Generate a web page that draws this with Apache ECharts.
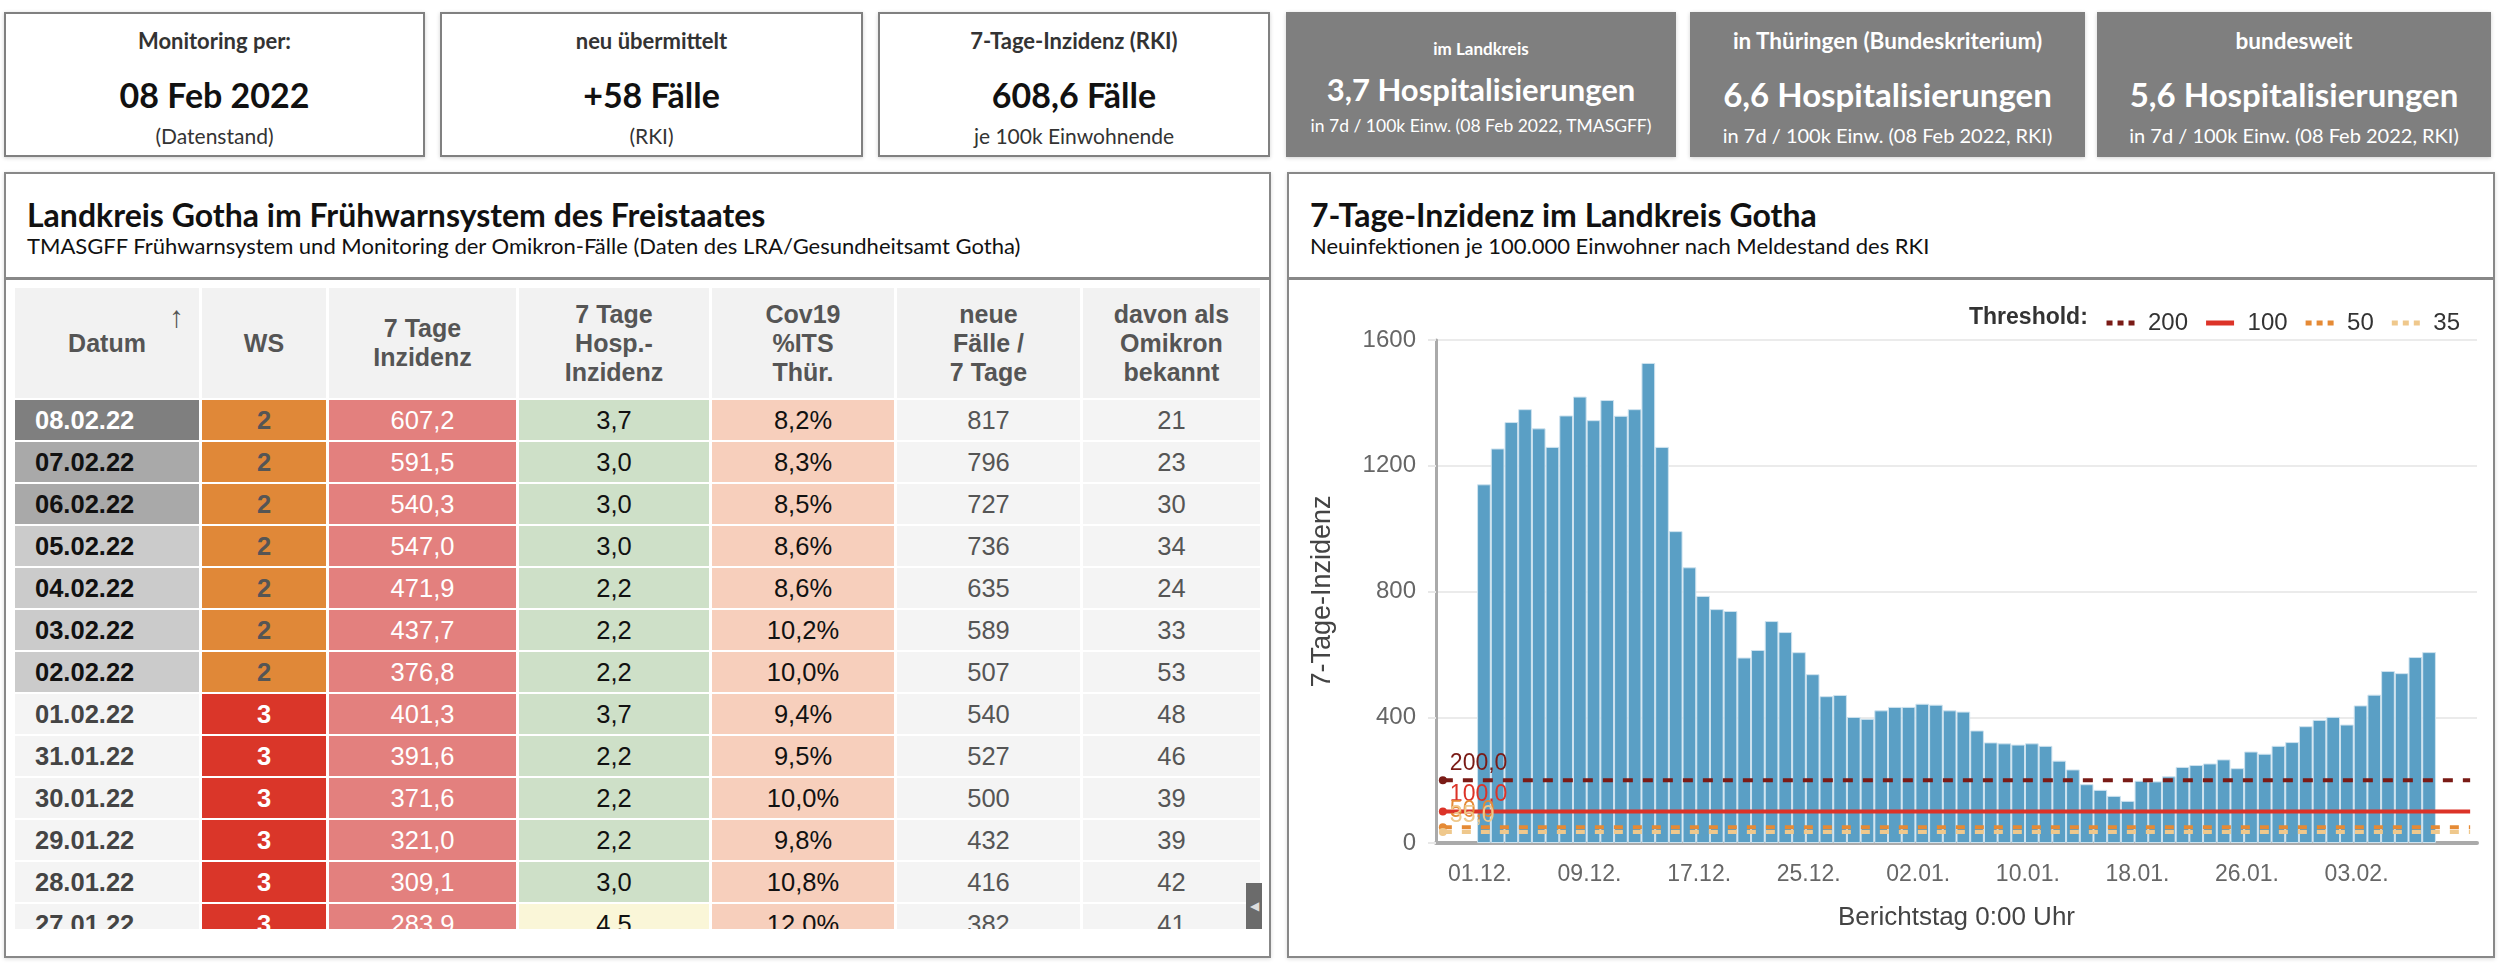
<!DOCTYPE html>
<html>
<head>
<meta charset="utf-8">
<title>Landkreis Gotha</title>
<script src="https://cdn.jsdelivr.net/npm/echarts@6/dist/echarts.min.js"></script>
<style>
body { margin: 0; width: 2500px; height: 971px; background: #fff; position: relative; overflow: hidden; font-family: Lato, "Noto Sans", sans-serif; }
.card { position: absolute; top: 12px; height: 141px; border: 2px solid #808080; background: #fff; color: #222; box-shadow: 0 1px 4px rgba(0,0,0,.18); }
.card.dark { background: #7f7f7f; border-color: #7f7f7f; color: #fff; }
.card div { position: absolute; left: 0; right: 0; text-align: center; transform: translateY(-50%); white-space: nowrap; }
.card .h { font-weight: 700; font-size: 22px; color: #333; }
.card .v { font-weight: 700; font-size: 34px; color: #111; }
.card .s { font-size: 21px; color: #333; }
.card.dark .h, .card.dark .v, .card.dark .s { color: #fff; }
.card.dark .v { font-size: 33px; }
.card.dark .s { font-size: 20px; }
.panel { position: absolute; top: 172px; height: 782px; border: 2px solid #888; background: #fff; box-shadow: 0 1px 4px rgba(0,0,0,.15); }
.panel .head { position: absolute; left: 0; right: 0; top: 0; height: 103px; border-bottom: 3px solid #888; }
.panel .title { position: absolute; left: 21px; top: 40px; transform: translateY(-50%); font-weight: 700; font-size: 32px; color: #111; white-space: nowrap; }
.panel .sub { position: absolute; left: 21px; top: 71px; transform: translateY(-50%); font-size: 22px; color: #111; white-space: nowrap; }
#tablebox { position: absolute; left: 15px; top: 288px; width: 1250px; height: 641px; overflow: hidden; }
table { border-collapse: separate; border-spacing: 3px 2px; margin: -2px 0 0 -3px; table-layout: fixed; font-family: "Liberation Sans", Arial, sans-serif; }
th { background: #f2f2f2; color: #555; font-size: 25px; font-weight: 700; height: 110px; line-height: 29px; padding: 0; position: relative; }
td { height: 40px; padding: 0; font-size: 25.5px; text-align: center; }
td.d { text-align: left; padding-left: 20px; font-weight: 700; }
.arrow { position: absolute; left: 154px; top: 14px; font-size: 30px; font-weight: 700; color: #555; }
#scroll { position: absolute; left: 1246px; top: 883px; width: 16px; height: 46px; background: #6b6b6b; color: #ddd; font-size: 12px; line-height: 46px; text-align: center; }
#chart { position: absolute; left: 1289px; top: 281px; width: 1204px; height: 675px; }
</style>
</head>
<body>

<div class="card" style="left:4px;width:417px"><div class="h" style="top:26px">Monitoring per:</div><div class="v" style="top:80px">08 Feb 2022</div><div class="s" style="top:121px">(Datenstand)</div></div>
<div class="card" style="left:440px;width:419px"><div class="h" style="top:26px">neu übermittelt</div><div class="v" style="top:80px">+58 Fälle</div><div class="s" style="top:121px">(RKI)</div></div>
<div class="card" style="left:878px;width:388px"><div class="h" style="top:26px">7-Tage-Inzidenz (RKI)</div><div class="v" style="top:80px">608,6 Fälle</div><div class="s" style="top:121px">je 100k Einwohnende</div></div>
<div class="card dark" style="left:1286px;width:386px"><div class="h" style="top:34px;font-size:17px">im Landkreis</div><div class="v" style="top:75px;font-size:31px">3,7 Hospitalisierungen</div><div class="s" style="top:111px;font-size:17.5px">in 7d / 100k Einw. (08 Feb 2022, TMASGFF)</div></div>
<div class="card dark" style="left:1690px;width:391px"><div class="h" style="top:26px;font-size:22.5px">in Thüringen (Bundeskriterium)</div><div class="v" style="top:80px">6,6 Hospitalisierungen</div><div class="s" style="top:121px">in 7d / 100k Einw. (08 Feb 2022, RKI)</div></div>
<div class="card dark" style="left:2097px;width:390px"><div class="h" style="top:26px;font-size:22.5px">bundesweit</div><div class="v" style="top:80px">5,6 Hospitalisierungen</div><div class="s" style="top:121px">in 7d / 100k Einw. (08 Feb 2022, RKI)</div></div>

<div class="panel" style="left:4px;width:1263px">
  <div class="head">
    <div class="title">Landkreis Gotha im Frühwarnsystem des Freistaates</div>
    <div class="sub">TMASGFF Frühwarnsystem und Monitoring der Omikron-Fälle (Daten des LRA/Gesundheitsamt Gotha)</div>
  </div>
</div>
<div id="tablebox"></div>
<div id="scroll">&#9664;</div>

<div class="panel" style="left:1287px;width:1204px">
  <div class="head">
    <div class="title">7-Tage-Inzidenz im Landkreis Gotha</div>
    <div class="sub">Neuinfektionen je 100.000 Einwohner nach Meldestand des RKI</div>
  </div>
</div>
<div id="chart"></div>

<script>
// Tabelle
const tableHeads = ['Datum', 'WS', '7 Tage<br>Inzidenz', '7 Tage<br>Hosp.-<br>Inzidenz', 'Cov19<br>%ITS<br>Thür.', 'neue<br>Fälle /<br>7 Tage', 'davon als<br>Omikron<br>bekannt'];
const tableDates = ['08.02.22', '07.02.22', '06.02.22', '05.02.22', '04.02.22', '03.02.22', '02.02.22', '01.02.22', '31.01.22', '30.01.22', '29.01.22', '28.01.22', '27.01.22'];
const tableWS = [2, 2, 2, 2, 2, 2, 2, 3, 3, 3, 3, 3, 3];
const tableInz = ['607,2', '591,5', '540,3', '547,0', '471,9', '437,7', '376,8', '401,3', '391,6', '371,6', '321,0', '309,1', '283,9'];
const tableHosp = ['3,7', '3,0', '3,0', '3,0', '2,2', '2,2', '2,2', '3,7', '2,2', '2,2', '2,2', '3,0', '4,5'];
const tableITS = ['8,2%', '8,3%', '8,5%', '8,6%', '8,6%', '10,2%', '10,0%', '9,4%', '9,5%', '10,0%', '9,8%', '10,8%', '12,0%'];
const tableCases = [817, 796, 727, 736, 635, 589, 507, 540, 527, 500, 432, 416, 382];
const tableOmikron = [21, 23, 30, 34, 24, 33, 53, 48, 46, 39, 39, 42, 41];

const colWidths = [184, 124, 187, 190, 182, 183, 177];
const dateBg = ['#7f7f7f', '#a9a9a9', '#a9a9a9', '#cbcbcb', '#cbcbcb', '#cbcbcb', '#cbcbcb'];
const dateFg = ['#fff', '#111', '#111', '#111', '#111', '#111', '#111'];

let html = '<table><colgroup>' + colWidths.map(w => '<col style="width:' + w + 'px">').join('') + '</colgroup><tr>';
tableHeads.forEach((h, i) => {
    html += '<th>' + h + (i === 0 ? '<span class="arrow">&#8593;</span>' : '') + '</th>';
});
html += '</tr>';
tableDates.forEach((d, i) => {
    let bg = dateBg[i] || '#f4f4f4';
    let fg = dateFg[i] || '#444';
    let ws = tableWS[i] === 2 ? 'background:#e08838;color:#555' : 'background:#da3629;color:#fff';
    let hosp = tableHosp[i] === '4,5' ? '#faf6d8' : '#cee0c8';
    html += '<tr>'
        + '<td class="d" style="background:' + bg + ';color:' + fg + '">' + d + '</td>'
        + '<td style="' + ws + ';font-weight:700">' + tableWS[i] + '</td>'
        + '<td style="background:#e3807e;color:#fff">' + tableInz[i] + '</td>'
        + '<td style="background:' + hosp + ';color:#111">' + tableHosp[i] + '</td>'
        + '<td style="background:#f7cfbc;color:#111">' + tableITS[i] + '</td>'
        + '<td style="background:#f4f4f4;color:#555">' + tableCases[i] + '</td>'
        + '<td style="background:#f4f4f4;color:#555">' + tableOmikron[i] + '</td>'
        + '</tr>';
});
html += '</table>';
document.getElementById('tablebox').innerHTML = html;

// Diagramm
const padBefore = ['28.11.', '29.11.', '30.11.'];
const chartDays = [
    '01.12.', '02.12.', '03.12.', '04.12.', '05.12.', '06.12.', '07.12.', '08.12.', '09.12.', '10.12.',
    '11.12.', '12.12.', '13.12.', '14.12.', '15.12.', '16.12.', '17.12.', '18.12.', '19.12.', '20.12.',
    '21.12.', '22.12.', '23.12.', '24.12.', '25.12.', '26.12.', '27.12.', '28.12.', '29.12.', '30.12.', '31.12.',
    '01.01.', '02.01.', '03.01.', '04.01.', '05.01.', '06.01.', '07.01.', '08.01.', '09.01.', '10.01.',
    '11.01.', '12.01.', '13.01.', '14.01.', '15.01.', '16.01.', '17.01.', '18.01.', '19.01.', '20.01.',
    '21.01.', '22.01.', '23.01.', '24.01.', '25.01.', '26.01.', '27.01.', '28.01.', '29.01.', '30.01.', '31.01.',
    '01.02.', '02.02.', '03.02.', '04.02.', '05.02.', '06.02.', '07.02.', '08.02.'
];
const padAfter = ['09.02.', '10.02.', '11.02.'];
const incidence = [
    1141, 1255, 1339, 1380, 1319, 1260, 1360, 1420, 1345, 1409,
    1359, 1380, 1527, 1260, 992, 877, 786, 744, 738, 590,
    614, 706, 671, 607, 537, 467, 471, 401, 395, 422, 433,
    433, 443, 440, 422, 418, 358, 320, 317, 313, 317,
    309, 262, 234, 187, 169, 150, 134, 198, 196, 212,
    242, 248, 253, 266, 238, 291, 283.9, 309.1, 321.0, 371.6, 391.6,
    401.3, 376.8, 437.7, 471.9, 547.0, 540.3, 591.5, 607.2
];
const thresholds = [200, 100, 50, 35];
const thrColors = ['#7a1b16', '#dc3328', '#e58a35', '#efc88c'];
const thrDash = [[10, 10], 'solid', [9, 10], [9, 10]];
const dotsIcon = 'path://M0,0h6v5h-6z M11,0h6v5h-6z M22,0h6v5h-6z';
const lineIcon = 'path://M0,0h28v5h-28z';

const categories = padBefore.concat(chartDays, padAfter);
const barData = padBefore.map(() => null).concat(incidence, padAfter.map(() => null));
const firstDay = padBefore.length;
const lastDay = padBefore.length + chartDays.length - 1;

const chart = echarts.init(document.getElementById('chart'));

const thrSeries = thresholds.map((v, i) => ({
    name: String(v),
    type: 'line',
    silent: true,
    z: 5,
    color: thrColors[i],
    lineStyle: { color: thrColors[i], width: 4, type: thrDash[i] },
    itemStyle: { color: thrColors[i] },
    label: {
        position: [11, -24],
        color: thrColors[i],
        fontSize: 23,
        formatter: p => p.value[1].toFixed(1).replace('.', ',')
    },
    data: [
        { value: [0, v], symbol: 'circle', symbolSize: 8, label: { show: true } },
        { value: [categories.length - 1, v], symbol: 'none' }
    ]
}));

chart.setOption({
    animation: false,
    textStyle: { fontFamily: '"Liberation Sans", Arial, sans-serif' },
    grid: { left: 147, right: 16, top: 59, bottom: 113 },
    graphic: [{
        type: 'text', left: 680, top: 25,
        style: { text: 'Threshold:', font: 'bold 23px "Liberation Sans", Arial', fill: '#333' }
    }],
    legend: {
        right: 28, top: 25,
        selectedMode: false,
        itemWidth: 29, itemHeight: 5, itemGap: 18,
        textStyle: { fontSize: 24, color: '#333', padding: [0, 0, 0, 8] },
        data: thresholds.map((v, i) => ({ name: String(v), icon: i === 1 ? lineIcon : dotsIcon }))
    },
    xAxis: {
        type: 'category',
        data: categories,
        axisLine: { lineStyle: { color: '#aaa', width: 4 } },
        axisTick: { show: false },
        axisLabel: {
            interval: idx => idx >= firstDay && idx <= lastDay && (idx - firstDay) % 8 === 0,
            color: '#666', fontSize: 23, margin: 20, padding: [0, 8, 0, 0]
        },
        name: 'Berichtstag 0:00 Uhr',
        nameLocation: 'middle',
        nameGap: 62,
        nameTextStyle: { fontSize: 26, color: '#444' }
    },
    yAxis: {
        type: 'value',
        min: 0, max: 1600, interval: 400,
        axisLine: { show: true, lineStyle: { color: '#aaa', width: 3 } },
        axisTick: { show: true, length: 8, lineStyle: { color: '#e8e8e8', width: 2 } },
        splitLine: { lineStyle: { color: '#ebebeb', width: 2 } },
        axisLabel: { color: '#666', fontSize: 24, margin: 20, formatter: v => String(v) },
        name: '7-Tage-Inzidenz',
        nameLocation: 'middle',
        nameGap: 100,
        nameTextStyle: { fontSize: 27, color: '#444' }
    },
    series: [{
        name: '7-Tage-Inzidenz',
        type: 'bar',
        barCategoryGap: '0%',
        data: barData,
        itemStyle: { color: '#5a9fc5', borderColor: '#cfe3ef', borderWidth: 1 }
    }].concat(thrSeries)
});
</script>
</body>
</html>
